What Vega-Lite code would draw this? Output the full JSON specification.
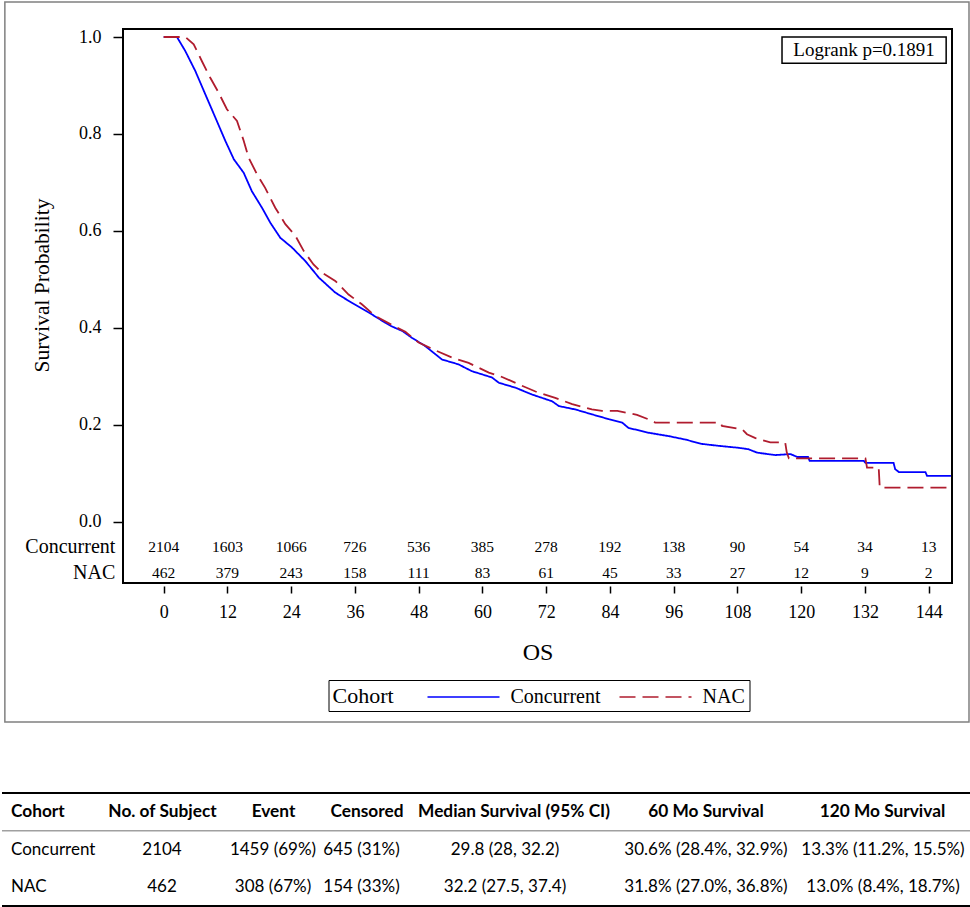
{
  "$schema": "https://vega.github.io/schema/vega-lite/v6.json",
  "padding": 0,
  "background": "white",
  "config": {
    "font": "Liberation Serif",
    "view": {"stroke": null},
    "concat": {"spacing": 68},
    "axisX": {
      "domain": false, "grid": false, "offset": 3,
      "tickSize": 7, "tickColor": "black", "tickWidth": 1.5,
      "labelFont": "Liberation Serif", "labelFontSize": 18, "labelColor": "black",
      "labelPadding": 10, "labelFlush": false,
      "titleFont": "Liberation Serif", "titleFontSize": 24, "titleFontWeight": "normal",
      "titleColor": "black", "titlePadding": 19
    },
    "axisY": {
      "domain": false, "grid": false,
      "tickSize": 10, "tickColor": "black", "tickWidth": 1.5,
      "labelFont": "Liberation Serif", "labelFontSize": 18, "labelColor": "black",
      "labelPadding": 12, "labelFlush": false,
      "titleFont": "Liberation Serif", "titleFontSize": 21.5, "titleFontWeight": "normal",
      "titleColor": "black", "titlePadding": 25
    },
    "legend": {
      "orient": "none",
      "legendX": 205.5,
      "legendY": 651,
      "direction": "horizontal",
      "titleOrient": "left",
      "strokeColor": "black",
      "padding": 4,
      "titleFont": "Liberation Serif",
      "titleFontSize": 22,
      "titleFontWeight": "normal",
      "titleColor": "black",
      "titlePadding": 56,
      "labelFont": "Liberation Serif",
      "labelFontSize": 20,
      "labelColor": "black",
      "labelOffset": 34,
      "symbolType": "M-3,0H3",
      "symbolSize": 576,
      "symbolStrokeWidth": 1.6,
      "columnPadding": 15
    }
  },
  "datasets": {
    "km": [
      {"cohort": "Concurrent", "month": 0, "surv": 1.0},
      {"cohort": "Concurrent", "month": 2.5, "surv": 1.0},
      {"cohort": "Concurrent", "month": 4.07, "surv": 0.971},
      {"cohort": "Concurrent", "month": 5.95, "surv": 0.93},
      {"cohort": "Concurrent", "month": 7.83, "surv": 0.882},
      {"cohort": "Concurrent", "month": 9.72, "surv": 0.834},
      {"cohort": "Concurrent", "month": 11.6, "surv": 0.786},
      {"cohort": "Concurrent", "month": 13.2, "surv": 0.748},
      {"cohort": "Concurrent", "month": 15.06, "surv": 0.72},
      {"cohort": "Concurrent", "month": 16.6, "surv": 0.682},
      {"cohort": "Concurrent", "month": 18.5, "surv": 0.648},
      {"cohort": "Concurrent", "month": 20.07, "surv": 0.617},
      {"cohort": "Concurrent", "month": 21.95, "surv": 0.586},
      {"cohort": "Concurrent", "month": 24.15, "surv": 0.566},
      {"cohort": "Concurrent", "month": 26.66, "surv": 0.538},
      {"cohort": "Concurrent", "month": 29.2, "surv": 0.504},
      {"cohort": "Concurrent", "month": 32.3, "surv": 0.473},
      {"cohort": "Concurrent", "month": 35.4, "surv": 0.452},
      {"cohort": "Concurrent", "month": 38.6, "surv": 0.432},
      {"cohort": "Concurrent", "month": 41.7, "surv": 0.411},
      {"cohort": "Concurrent", "month": 43.0, "surv": 0.403},
      {"cohort": "Concurrent", "month": 44.9, "surv": 0.394},
      {"cohort": "Concurrent", "month": 46.7, "surv": 0.38},
      {"cohort": "Concurrent", "month": 49.2, "surv": 0.363},
      {"cohort": "Concurrent", "month": 52.4, "surv": 0.335},
      {"cohort": "Concurrent", "month": 55.5, "surv": 0.325},
      {"cohort": "Concurrent", "month": 58.0, "surv": 0.311},
      {"cohort": "Concurrent", "month": 61.8, "surv": 0.298},
      {"cohort": "Concurrent", "month": 63.1, "surv": 0.287},
      {"cohort": "Concurrent", "month": 66.2, "surv": 0.277},
      {"cohort": "Concurrent", "month": 69.3, "surv": 0.263},
      {"cohort": "Concurrent", "month": 73.1, "surv": 0.249},
      {"cohort": "Concurrent", "month": 74.4, "surv": 0.239},
      {"cohort": "Concurrent", "month": 77.5, "surv": 0.232},
      {"cohort": "Concurrent", "month": 80.6, "surv": 0.222},
      {"cohort": "Concurrent", "month": 83.8, "surv": 0.212},
      {"cohort": "Concurrent", "month": 86.3, "surv": 0.205},
      {"cohort": "Concurrent", "month": 87.5, "surv": 0.194},
      {"cohort": "Concurrent", "month": 91.3, "surv": 0.184},
      {"cohort": "Concurrent", "month": 95.1, "surv": 0.177},
      {"cohort": "Concurrent", "month": 98.2, "surv": 0.17},
      {"cohort": "Concurrent", "month": 101.3, "surv": 0.161},
      {"cohort": "Concurrent", "month": 104.5, "surv": 0.157},
      {"cohort": "Concurrent", "month": 108.2, "surv": 0.153},
      {"cohort": "Concurrent", "month": 110.1, "surv": 0.15},
      {"cohort": "Concurrent", "month": 111.7, "surv": 0.143},
      {"cohort": "Concurrent", "month": 115.1, "surv": 0.138},
      {"cohort": "Concurrent", "month": 118.0, "surv": 0.14},
      {"cohort": "Concurrent", "month": 119.3, "surv": 0.134},
      {"cohort": "Concurrent", "month": 121.3, "surv": 0.134},
      {"cohort": "Concurrent", "month": 121.6, "surv": 0.126},
      {"cohort": "Concurrent", "month": 131.8, "surv": 0.126},
      {"cohort": "Concurrent", "month": 132.1, "surv": 0.122},
      {"cohort": "Concurrent", "month": 137.4, "surv": 0.122},
      {"cohort": "Concurrent", "month": 137.7, "surv": 0.109},
      {"cohort": "Concurrent", "month": 138.4, "surv": 0.103},
      {"cohort": "Concurrent", "month": 143.4, "surv": 0.103},
      {"cohort": "Concurrent", "month": 143.7, "surv": 0.095},
      {"cohort": "Concurrent", "month": 148.2, "surv": 0.095},
      {"cohort": "NAC", "month": 0, "surv": 1.0},
      {"cohort": "NAC", "month": 4.07, "surv": 1.0},
      {"cohort": "NAC", "month": 5.65, "surv": 0.985},
      {"cohort": "NAC", "month": 7.2, "surv": 0.95},
      {"cohort": "NAC", "month": 8.77, "surv": 0.916},
      {"cohort": "NAC", "month": 10.35, "surv": 0.885},
      {"cohort": "NAC", "month": 11.9, "surv": 0.851},
      {"cohort": "NAC", "month": 13.8, "surv": 0.827},
      {"cohort": "NAC", "month": 15.06, "surv": 0.786},
      {"cohort": "NAC", "month": 16.0, "surv": 0.751},
      {"cohort": "NAC", "month": 17.56, "surv": 0.717},
      {"cohort": "NAC", "month": 19.1, "surv": 0.689},
      {"cohort": "NAC", "month": 21.0, "surv": 0.648},
      {"cohort": "NAC", "month": 22.9, "surv": 0.614},
      {"cohort": "NAC", "month": 24.8, "surv": 0.59},
      {"cohort": "NAC", "month": 26.35, "surv": 0.559},
      {"cohort": "NAC", "month": 28.2, "surv": 0.531},
      {"cohort": "NAC", "month": 29.8, "surv": 0.514},
      {"cohort": "NAC", "month": 32.3, "surv": 0.497},
      {"cohort": "NAC", "month": 34.8, "surv": 0.469},
      {"cohort": "NAC", "month": 37.3, "surv": 0.449},
      {"cohort": "NAC", "month": 39.8, "surv": 0.425},
      {"cohort": "NAC", "month": 43.0, "surv": 0.406},
      {"cohort": "NAC", "month": 45.5, "surv": 0.392},
      {"cohort": "NAC", "month": 48.0, "surv": 0.37},
      {"cohort": "NAC", "month": 51.1, "surv": 0.354},
      {"cohort": "NAC", "month": 54.3, "surv": 0.339},
      {"cohort": "NAC", "month": 57.4, "surv": 0.328},
      {"cohort": "NAC", "month": 61.2, "surv": 0.308},
      {"cohort": "NAC", "month": 63.7, "surv": 0.299},
      {"cohort": "NAC", "month": 66.8, "surv": 0.284},
      {"cohort": "NAC", "month": 70.0, "surv": 0.269},
      {"cohort": "NAC", "month": 73.7, "surv": 0.256},
      {"cohort": "NAC", "month": 76.9, "surv": 0.243},
      {"cohort": "NAC", "month": 80.6, "surv": 0.232},
      {"cohort": "NAC", "month": 82.5, "surv": 0.229},
      {"cohort": "NAC", "month": 85.4, "surv": 0.229},
      {"cohort": "NAC", "month": 89.1, "surv": 0.221},
      {"cohort": "NAC", "month": 92.1, "surv": 0.208},
      {"cohort": "NAC", "month": 92.5, "surv": 0.205},
      {"cohort": "NAC", "month": 104.8, "surv": 0.205},
      {"cohort": "NAC", "month": 105.1, "surv": 0.198},
      {"cohort": "NAC", "month": 108.9, "surv": 0.191},
      {"cohort": "NAC", "month": 109.8, "surv": 0.181},
      {"cohort": "NAC", "month": 111.4, "surv": 0.173},
      {"cohort": "NAC", "month": 114.2, "surv": 0.164},
      {"cohort": "NAC", "month": 117.0, "surv": 0.164},
      {"cohort": "NAC", "month": 117.3, "surv": 0.143},
      {"cohort": "NAC", "month": 117.7, "surv": 0.131},
      {"cohort": "NAC", "month": 132.1, "surv": 0.131},
      {"cohort": "NAC", "month": 132.4, "surv": 0.112},
      {"cohort": "NAC", "month": 134.6, "surv": 0.112},
      {"cohort": "NAC", "month": 134.8, "surv": 0.071},
      {"cohort": "NAC", "month": 148.2, "surv": 0.071}
    ],
    "risk": [
      {"cohort": "Concurrent", "month": 0, "n": 2104},
      {"cohort": "Concurrent", "month": 12, "n": 1603},
      {"cohort": "Concurrent", "month": 24, "n": 1066},
      {"cohort": "Concurrent", "month": 36, "n": 726},
      {"cohort": "Concurrent", "month": 48, "n": 536},
      {"cohort": "Concurrent", "month": 60, "n": 385},
      {"cohort": "Concurrent", "month": 72, "n": 278},
      {"cohort": "Concurrent", "month": 84, "n": 192},
      {"cohort": "Concurrent", "month": 96, "n": 138},
      {"cohort": "Concurrent", "month": 108, "n": 90},
      {"cohort": "Concurrent", "month": 120, "n": 54},
      {"cohort": "Concurrent", "month": 132, "n": 34},
      {"cohort": "Concurrent", "month": 144, "n": 13},
      {"cohort": "NAC", "month": 0, "n": 462},
      {"cohort": "NAC", "month": 12, "n": 379},
      {"cohort": "NAC", "month": 24, "n": 243},
      {"cohort": "NAC", "month": 36, "n": 158},
      {"cohort": "NAC", "month": 48, "n": 111},
      {"cohort": "NAC", "month": 60, "n": 83},
      {"cohort": "NAC", "month": 72, "n": 61},
      {"cohort": "NAC", "month": 84, "n": 45},
      {"cohort": "NAC", "month": 96, "n": 33},
      {"cohort": "NAC", "month": 108, "n": 27},
      {"cohort": "NAC", "month": 120, "n": 12},
      {"cohort": "NAC", "month": 132, "n": 9},
      {"cohort": "NAC", "month": 144, "n": 2}
    ],
    "table": [
      {"row": "header", "cohort": "Cohort", "n": "No. of Subject", "event": "Event", "censored": "Censored", "median": "Median Survival (95% CI)", "s60": "60 Mo Survival", "s120": "120 Mo Survival"},
      {"row": "Concurrent", "cohort": "Concurrent", "n": "2104", "event": "1459 (69%)", "censored": "645 (31%)", "median": "29.8 (28, 32.2)", "s60": "30.6% (28.4%, 32.9%)", "s120": "13.3% (11.2%, 15.5%)"},
      {"row": "NAC", "cohort": "NAC", "n": "462", "event": "308 (67%)", "censored": "154 (33%)", "median": "32.2 (27.5, 37.4)", "s60": "31.8% (27.0%, 36.8%)", "s120": "13.0% (8.4%, 18.7%)"}
    ]
  },
  "vconcat": [
    {
      "width": 829,
      "height": 554,
      "view": {"stroke": "black", "strokeWidth": 2},
      "resolve": {"axis": {"x": "independent", "y": "independent"}},
      "layer": [
        {
          "data": {"name": "km"},
          "mark": {"type": "line", "interpolate": "linear", "strokeWidth": 1.8},
          "encoding": {
            "x": {
              "field": "month", "type": "quantitative",
              "scale": {"domain": [-7.66, 148.4], "nice": false, "zero": false},
              "axis": {
                "values": [0, 12, 24, 36, 48, 60, 72, 84, 96, 108, 120, 132, 144],
                "title": "OS", "offset": 3
              }
            },
            "y": {
              "field": "surv", "type": "quantitative",
              "scale": {"domain": [-0.1258, 1.0165], "nice": false, "zero": false},
              "axis": {
                "values": [0, 0.2, 0.4, 0.6, 0.8, 1.0], "format": ".1f",
                "title": "Survival Probability", "titleY": 256
              }
            },
            "color": {
              "field": "cohort", "type": "nominal", "title": "Cohort",
              "scale": {"domain": ["Concurrent", "NAC"], "range": ["#0000ff", "#b01c2e"]}
            },
            "strokeDash": {
              "field": "cohort", "type": "nominal", "title": "Cohort",
              "scale": {"domain": ["Concurrent", "NAC"], "range": [[1, 0], [16, 7]]}
            }
          }
        },
        {
          "data": {"values": [{}]},
          "mark": {"type": "rect", "filled": false, "stroke": "#808080", "strokeWidth": 1.5},
          "encoding": {
            "x": {"datum": -29.9, "type": "quantitative", "axis": null},
            "x2": {"datum": 151.6},
            "y": {"datum": 1.0722, "type": "quantitative", "axis": null},
            "y2": {"datum": -0.4124}
          }
        },
        {
          "data": {"values": [{}]},
          "mark": {"type": "rect", "filled": false, "stroke": "black", "strokeWidth": 1.5},
          "encoding": {
            "x": {"datum": 116.4, "type": "quantitative", "axis": null},
            "x2": {"datum": 147.3},
            "y": {"datum": 1.0, "type": "quantitative", "axis": null},
            "y2": {"datum": 0.946}
          }
        },
        {
          "data": {"values": [{}]},
          "mark": {"type": "text", "text": "Logrank p=0.1891", "font": "Liberation Serif", "fontSize": 19, "align": "center", "baseline": "middle", "color": "black"},
          "encoding": {
            "x": {"datum": 131.85, "type": "quantitative", "axis": null},
            "y": {"datum": 0.973, "type": "quantitative", "axis": null}
          }
        },
        {
          "data": {"name": "risk"},
          "transform": [{"filter": "datum.cohort === 'Concurrent'"}],
          "mark": {"type": "text", "font": "Liberation Serif", "fontSize": 15.5, "align": "center", "baseline": "middle", "color": "black"},
          "encoding": {
            "x": {"field": "month", "type": "quantitative", "axis": null},
            "y": {"datum": -0.0515, "type": "quantitative", "axis": null},
            "text": {"field": "n", "type": "quantitative"}
          }
        },
        {
          "data": {"name": "risk"},
          "transform": [{"filter": "datum.cohort === 'NAC'"}],
          "mark": {"type": "text", "font": "Liberation Serif", "fontSize": 15.5, "align": "center", "baseline": "middle", "color": "black"},
          "encoding": {
            "x": {"field": "month", "type": "quantitative", "axis": null},
            "y": {"datum": -0.1045, "type": "quantitative", "axis": null},
            "text": {"field": "n", "type": "quantitative"}
          }
        },
        {
          "data": {"values": [{}]},
          "mark": {"type": "text", "text": "Concurrent", "font": "Liberation Serif", "fontSize": 20, "align": "right", "baseline": "middle", "color": "black"},
          "encoding": {
            "x": {"datum": -9.1, "type": "quantitative", "axis": null},
            "y": {"datum": -0.0515, "type": "quantitative", "axis": null}
          }
        },
        {
          "data": {"values": [{}]},
          "mark": {"type": "text", "text": "NAC", "font": "Liberation Serif", "fontSize": 20, "align": "right", "baseline": "middle", "color": "black"},
          "encoding": {
            "x": {"datum": -9.1, "type": "quantitative", "axis": null},
            "y": {"datum": -0.1045, "type": "quantitative", "axis": null}
          }
        }
      ]
    },
    {
      "width": 829,
      "height": 113,
      "view": {"stroke": null},
      "data": {"name": "table"},
      "encoding": {
        "x": {"datum": 0, "type": "quantitative", "scale": {"domain": [121, 950], "nice": false, "zero": false}, "axis": null},
        "y": {"field": "row", "type": "nominal", "scale": {"domain": ["header", "Concurrent", "NAC"], "paddingInner": 0, "paddingOuter": 0}, "axis": null}
      },
      "layer": [
        {
          "data": {"values": [{}]},
          "mark": {"type": "rule", "color": "black", "strokeWidth": 2},
          "encoding": {
            "x": {"datum": 0, "type": "quantitative", "axis": null},
            "x2": {"datum": 970},
            "y": {"datum": "header", "type": "nominal", "bandPosition": 0, "axis": null}
          }
        },
        {
          "data": {"values": [{}]},
          "mark": {"type": "rule", "color": "#a0a0a0", "strokeWidth": 1.5},
          "encoding": {
            "x": {"datum": 0, "type": "quantitative", "axis": null},
            "x2": {"datum": 970},
            "y": {"datum": "Concurrent", "type": "nominal", "bandPosition": 0, "axis": null}
          }
        },
        {
          "data": {"values": [{}]},
          "mark": {"type": "rule", "color": "black", "strokeWidth": 2},
          "encoding": {
            "x": {"datum": 0, "type": "quantitative", "axis": null},
            "x2": {"datum": 970},
            "y": {"datum": "NAC", "type": "nominal", "bandPosition": 1, "axis": null}
          }
        },
        {"transform": [{"filter": "datum.row === 'header'"}], "mark": {"type": "text", "font": "Lato", "fontSize": 17.3, "fontWeight": "bold", "align": "left", "baseline": "middle", "color": "black"}, "encoding": {"x": {"datum": 9, "type": "quantitative", "axis": null}, "text": {"field": "cohort"}}},
        {"transform": [{"filter": "datum.row === 'header'"}], "mark": {"type": "text", "font": "Lato", "fontSize": 17.3, "fontWeight": "bold", "align": "center", "baseline": "middle", "color": "black"}, "encoding": {"x": {"datum": 160.5, "type": "quantitative", "axis": null}, "text": {"field": "n"}}},
        {"transform": [{"filter": "datum.row === 'header'"}], "mark": {"type": "text", "font": "Lato", "fontSize": 17.3, "fontWeight": "bold", "align": "center", "baseline": "middle", "color": "black"}, "encoding": {"x": {"datum": 271.5, "type": "quantitative", "axis": null}, "text": {"field": "event"}}},
        {"transform": [{"filter": "datum.row === 'header'"}], "mark": {"type": "text", "font": "Lato", "fontSize": 17.3, "fontWeight": "bold", "align": "center", "baseline": "middle", "color": "black"}, "encoding": {"x": {"datum": 365, "type": "quantitative", "axis": null}, "text": {"field": "censored"}}},
        {"transform": [{"filter": "datum.row === 'header'"}], "mark": {"type": "text", "font": "Lato", "fontSize": 17.3, "fontWeight": "bold", "align": "center", "baseline": "middle", "color": "black"}, "encoding": {"x": {"datum": 512, "type": "quantitative", "axis": null}, "text": {"field": "median"}}},
        {"transform": [{"filter": "datum.row === 'header'"}], "mark": {"type": "text", "font": "Lato", "fontSize": 17.3, "fontWeight": "bold", "align": "center", "baseline": "middle", "color": "black"}, "encoding": {"x": {"datum": 704, "type": "quantitative", "axis": null}, "text": {"field": "s60"}}},
        {"transform": [{"filter": "datum.row === 'header'"}], "mark": {"type": "text", "font": "Lato", "fontSize": 17.3, "fontWeight": "bold", "align": "center", "baseline": "middle", "color": "black"}, "encoding": {"x": {"datum": 880.5, "type": "quantitative", "axis": null}, "text": {"field": "s120"}}},
        {"transform": [{"filter": "datum.row !== 'header'"}], "mark": {"type": "text", "font": "Lato", "fontSize": 17, "align": "left", "baseline": "middle", "color": "black"}, "encoding": {"x": {"datum": 9, "type": "quantitative", "axis": null}, "text": {"field": "cohort"}}},
        {"transform": [{"filter": "datum.row !== 'header'"}], "mark": {"type": "text", "font": "Lato", "fontSize": 17, "align": "center", "baseline": "middle", "color": "black"}, "encoding": {"x": {"datum": 160, "type": "quantitative", "axis": null}, "text": {"field": "n"}}},
        {"transform": [{"filter": "datum.row !== 'header'"}], "mark": {"type": "text", "font": "Lato", "fontSize": 17, "align": "center", "baseline": "middle", "color": "black"}, "encoding": {"x": {"datum": 271, "type": "quantitative", "axis": null}, "text": {"field": "event"}}},
        {"transform": [{"filter": "datum.row !== 'header'"}], "mark": {"type": "text", "font": "Lato", "fontSize": 17, "align": "center", "baseline": "middle", "color": "black"}, "encoding": {"x": {"datum": 359.5, "type": "quantitative", "axis": null}, "text": {"field": "censored"}}},
        {"transform": [{"filter": "datum.row !== 'header'"}], "mark": {"type": "text", "font": "Lato", "fontSize": 17, "align": "center", "baseline": "middle", "color": "black"}, "encoding": {"x": {"datum": 503, "type": "quantitative", "axis": null}, "text": {"field": "median"}}},
        {"transform": [{"filter": "datum.row !== 'header'"}], "mark": {"type": "text", "font": "Lato", "fontSize": 17, "align": "center", "baseline": "middle", "color": "black"}, "encoding": {"x": {"datum": 704, "type": "quantitative", "axis": null}, "text": {"field": "s60"}}},
        {"transform": [{"filter": "datum.row !== 'header'"}], "mark": {"type": "text", "font": "Lato", "fontSize": 17, "align": "center", "baseline": "middle", "color": "black"}, "encoding": {"x": {"datum": 881, "type": "quantitative", "axis": null}, "text": {"field": "s120"}}}
      ]
    }
  ]
}
